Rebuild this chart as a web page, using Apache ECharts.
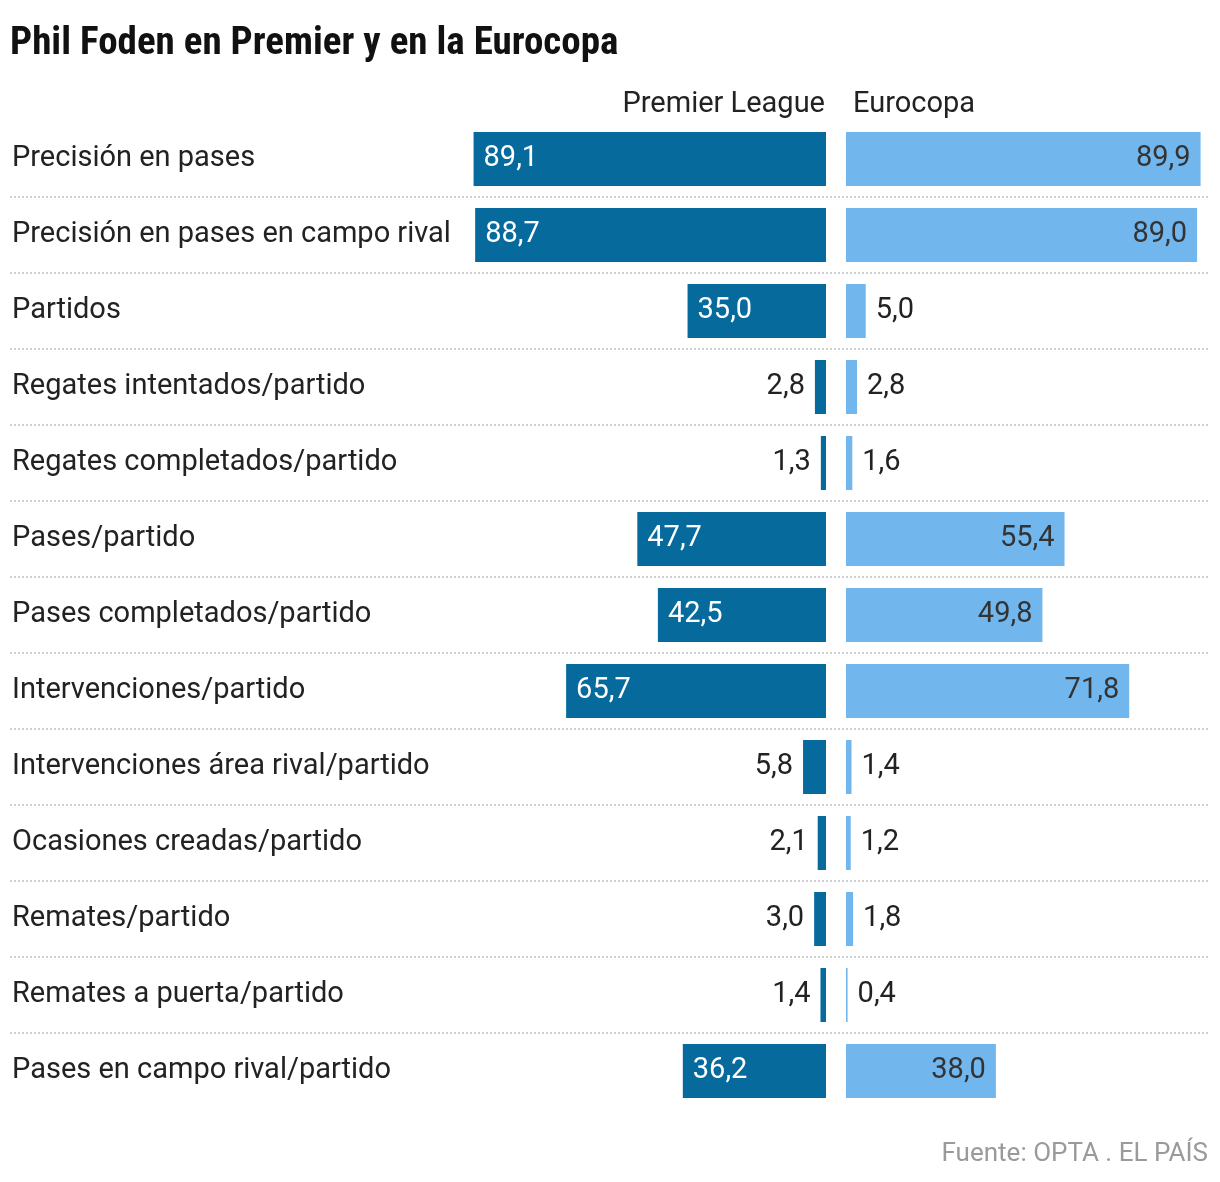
<!DOCTYPE html>
<html><head><meta charset="utf-8">
<script src="https://cdn.jsdelivr.net/npm/echarts@6/dist/echarts.min.js"></script>
<style>html,body{margin:0;padding:0;background:#fff}#c{width:1220px;height:1182px}</style>
</head><body><div id="c"></div>
<script>
const categories = [
  'Precisión en pases',
  'Precisión en pases en campo rival',
  'Partidos',
  'Regates intentados/partido',
  'Regates completados/partido',
  'Pases/partido',
  'Pases completados/partido',
  'Intervenciones/partido',
  'Intervenciones área rival/partido',
  'Ocasiones creadas/partido',
  'Remates/partido',
  'Remates a puerta/partido',
  'Pases en campo rival/partido'
];
const premierValues = [89.1, 88.7, 35.0, 2.8, 1.3, 47.7, 42.5, 65.7, 5.8, 2.1, 3.0, 1.4, 36.2];
const euroValues    = [89.9, 89.0, 5.0, 2.8, 1.6, 55.4, 49.8, 71.8, 1.4, 1.2, 1.8, 0.4, 38.0];
const separatorTicks = [1, 12];

const FONT = 'Roboto';
const FS = 29;
const DARK = '#066a9c';
const LIGHT = '#72b6ee';
const fmt = v => v.toFixed(1).replace('.', ',');
const INSIDE_MIN = 20;

const premierData = premierValues.map(v => ({
  value: v,
  label: v >= INSIDE_MIN
    ? { position: 'insideLeft', color: '#fff', distance: 10 }
    : { position: 'left', color: '#222', distance: 10 }
}));
const euroData = euroValues.map(v => ({
  value: v,
  label: v >= INSIDE_MIN
    ? { position: 'insideRight', color: '#333', distance: 10 }
    : { position: 'right', color: '#222', distance: 10 }
}));

const chart = echarts.init(document.getElementById('c'), null, { renderer: 'canvas' });
const labelStyle = { show: true, fontFamily: FONT, fontSize: FS, padding: [4, 0, 0, 0], formatter: p => fmt(p.value) };

chart.setOption({
  backgroundColor: '#fff',
  animation: false,
  title: [
    { text: 'Phil Foden en Premier y en la Eurocopa', left: 10, top: 25, padding: 0,
      textStyle: { fontFamily: '"Liberation Sans Narrow", "Roboto Condensed", sans-serif', fontWeight: 'bold', fontSize: 39, color: '#111' } },
    { text: 'Premier League', right: 395, top: 90, padding: 0,
      textStyle: { fontFamily: FONT, fontWeight: 'normal', fontSize: FS, color: '#222' } },
    { text: 'Eurocopa', left: 853, top: 90, padding: 0,
      textStyle: { fontFamily: FONT, fontWeight: 'normal', fontSize: FS, color: '#222' } },
    { text: 'Fuente: OPTA . EL PAÍS', right: 12, top: 1141, padding: 0,
      textStyle: { fontFamily: FONT, fontWeight: 'normal', fontSize: 26, color: '#9a9a9a' } }
  ],
  grid: [
    { left: 470, right: 394, top: 121, height: 988 },
    { left: 846, right: 19, top: 121, height: 988 },
    { left: 10, right: 12, top: 197, height: 836 }
  ],
  xAxis: [
    { gridIndex: 0, type: 'value', min: 0, max: 90, inverse: true, show: false },
    { gridIndex: 1, type: 'value', min: 0, max: 90, show: false },
    { gridIndex: 2, type: 'value', min: 0, max: 1, show: false }
  ],
  yAxis: [
    { gridIndex: 0, type: 'category', data: categories, inverse: true,
      axisLine: { show: false }, axisTick: { show: false }, splitLine: { show: false },
      axisLabel: { align: 'left', margin: 458, padding: [4, 0, 0, 0], fontFamily: FONT, fontSize: FS, color: '#222' } },
    { gridIndex: 1, type: 'category', data: categories, inverse: true, show: false },
    { gridIndex: 2, type: 'value', min: separatorTicks[0], max: separatorTicks[1], interval: 1,
      axisLine: { show: false }, axisTick: { show: false }, axisLabel: { show: false },
      splitLine: { show: true, lineStyle: { color: '#cfcfcf', width: 2, type: [2, 2] } } }
  ],
  series: [
    { type: 'bar', xAxisIndex: 0, yAxisIndex: 0, data: premierData, barWidth: 54,
      itemStyle: { color: DARK }, label: labelStyle, silent: true },
    { type: 'bar', xAxisIndex: 1, yAxisIndex: 1, data: euroData, barWidth: 54,
      itemStyle: { color: LIGHT }, label: labelStyle, silent: true }
  ]
});
</script></body></html>
